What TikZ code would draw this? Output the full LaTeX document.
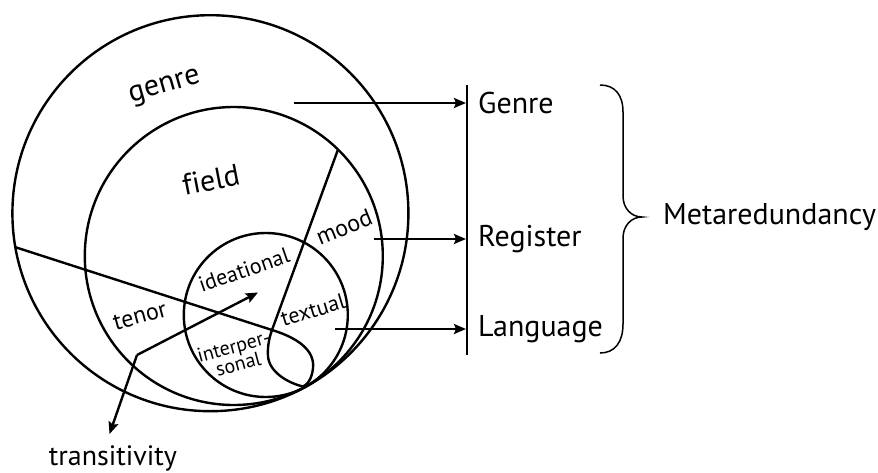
\documentclass[tikz,border=0pt]{standalone}
\usepackage{fontspec}
\setmainfont{PT Sans}[Ligatures=CommonOff]
\usetikzlibrary{arrows.meta}
\begin{document}
\begin{tikzpicture}[x=1pt,y=-1pt,line width=2.4pt,
  arr/.style={-{Stealth[length=12pt,width=10pt,inset=2pt]}},
  big/.style={inner sep=0pt,font=\fontsize{30}{34}\selectfont},
  trn/.style={inner sep=0pt,font=\fontsize{28}{32}\selectfont},
  mid/.style={inner sep=0pt,font=\fontsize{24}{27}\selectfont},
  sma/.style={inner sep=0pt,font=\fontsize{22}{25}\selectfont},
  sml/.style={inner sep=0pt,font=\fontsize{20}{21}\selectfont,align=center}]
\useasboundingbox (0,0) rectangle (878,472);
% circles, all tangent at T
\coordinate (T) at (303,386.5);
\coordinate (co) at (210.4,213.2);
\coordinate (cf) at (233.8,256);
\coordinate (ci) at (265.8,315);
\draw (co) circle[radius=198pt];
\draw (cf) circle[radius=149pt];
\draw (ci) circle[radius=82pt];
% tenor / mood line with loop
\coordinate (L) at (14.8,247);
\coordinate (X) at (272,330);
\coordinate (M) at (338,149.5);
\draw (L) -- (X) .. controls (297,337.6) and (315,350) .. (313,368)
  .. controls (312,379) and (307,385) .. (T)
  .. controls (288,383) and (269,372) .. (268,356)
  .. controls (267.5,348) and (268.6,339.4) .. (X) -- (M);
% labels inside circles
\node[big,rotate=16] (lgenre) at (165,88) {genre};
\node[big,rotate=11] (lfield) at (211,180) {field};
\node[mid,rotate=15] (ltenor) at (140,316) {tenor};
\node[mid,rotate=22] (lmood) at (344,227) {mood};
\node[sma,rotate=19] (lide) at (244,270) {ideational};
\node[sma,rotate=17] (ltext) at (313,310) {textual};
\node[sml,rotate=15] (linter) at (236,355) {interper-\\[-3pt]sonal};
% transitivity double arrow
\coordinate (tc) at (137,355);
\coordinate (ti) at (258,292.5);
\coordinate (tt) at (109.5,434);
\draw[arr] (tc) -- (ti);
\draw[arr] (tc) -- (tt);
\node[trn,anchor=base] (ltrans) at (113,465) {transitivity};
% vertical bar
\coordinate (vt) at (467,85);
\coordinate (vb) at (467,355);
\draw[line width=1.6pt] (vt) -- (vb);
% arrows to levels
\coordinate (g0) at (294,103);
\coordinate (g1) at (466,103);
\coordinate (r0) at (374,239);
\coordinate (r1) at (466,239);
\coordinate (a0) at (335,329);
\coordinate (a1) at (466,329);
\draw[arr] (g0) -- (g1);
\draw[arr] (r0) -- (r1);
\draw[arr] (a0) -- (a1);
\node[big,anchor=west] (Genre) at (477,103) {Genre};
\node[big,anchor=west] (Register) at (477,239) {Register};
\node[big,anchor=west] (Language) at (477,329) {Language};
% brace
\coordinate (b0) at (600,85);
\coordinate (bt) at (642,217);
\coordinate (b1) at (600,353);
\draw[line width=1.5pt] (b0) .. controls (615,85) and (623,95) .. (623,112)
  -- (623,196) .. controls (623,208) and (631,217) .. (bt)
  .. controls (631,217) and (623,226) .. (623,238)
  -- (623,324) .. controls (623,342) and (615,353) .. (b1);
\node[big,anchor=west] (meta) at (662,217) {Metaredundancy};
\end{tikzpicture}
\end{document}
